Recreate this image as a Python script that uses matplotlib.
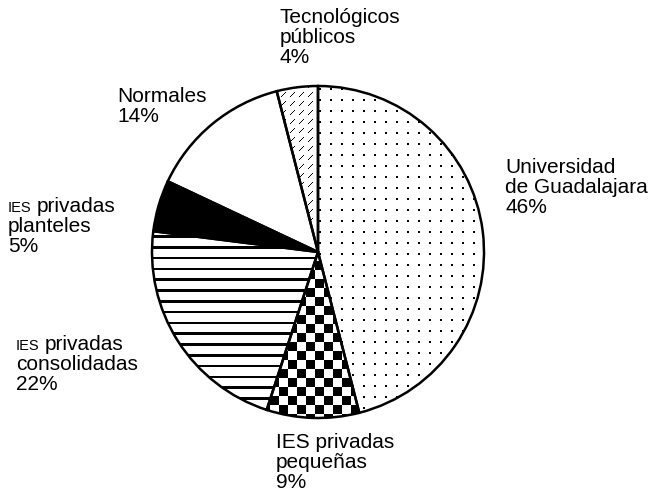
import numpy as np
import matplotlib.pyplot as plt

plt.rcParams['font.family'] = ['Liberation Sans', 'DejaVu Sans']

# datos del grafico
sectores = ['Universidad de Guadalajara', 'IES privadas pequeñas', 'IES privadas consolidadas',
            'IES privadas planteles', 'Normales', 'Tecnológicos públicos']
porcentajes = [46, 9, 22, 5, 14, 4]
etiquetas = ['Universidad\nde Guadalajara\n46%',
             'IES privadas\npequeñas\n9%',
             'IES| privadas\nconsolidadas\n22%',
             'IES| privadas\nplanteles\n5%',
             'Normales\n14%',
             'Tecnológicos\npúblicos\n4%']
# x izquierda, linea base de la primera linea (pixeles de imagen)
pos_etiquetas = [(505, 173), (276, 448), (16, 350), (8, 212), (117, 102), (280, 23)]

W, H = 654, 497
fig = plt.figure(figsize=(W / 100, H / 100), dpi=100)
ax = fig.add_axes([0, 0, 1, 1])

wedges, _ = ax.pie(porcentajes, startangle=90, counterclock=False,
                   center=(318, H - 252), radius=166,
                   wedgeprops=dict(facecolor='white', edgecolor='black', linewidth=1.8))

# texturas de relleno en pixeles
yy, xx = np.mgrid[0:H, 0:W]
puntos = ((xx % 11) < 2) & ((yy % 11) < 2)
cuadros = ((xx // 9) + (yy // 9)) % 2 == 0
rayas = ((yy + 3) % 10.8) < 2.7
negro = np.ones((H, W), dtype=bool)
blanco = np.zeros((H, W), dtype=bool)
u = xx % 9
v = yy % 9
guiones = (u + v == 8) & (u >= 2) & (u <= 6)
texturas = [puntos, cuadros, rayas, negro, blanco, guiones]

for w, tex in zip(wedges, texturas):
    im = ax.imshow(tex.astype(float), cmap='gray_r', vmin=0, vmax=1,
                   extent=(0, W, 0, H), origin='upper', interpolation='nearest', zorder=0.5)
    im.set_clip_path(w)
    w.set_zorder(1)
    w.set_facecolor('none')

fs = 15
paso = 20
for texto, (x, yb) in zip(etiquetas, pos_etiquetas):
    for i, linea in enumerate(texto.split('\n')):
        y = H - (yb + i * paso)
        if '|' in linea:
            pref, suf = linea.split('|')
            ax.text(x, y, pref, fontsize=10.5, va='baseline', ha='left')
            ax.text(x + 29, y, suf.strip(), fontsize=fs, va='baseline', ha='left')
        else:
            ax.text(x, y, linea, fontsize=fs, va='baseline', ha='left')

ax.set_xlim(0, W)
ax.set_ylim(0, H)
ax.set_aspect('equal')
ax.axis('off')

fig.savefig('out.png', dpi=100)
